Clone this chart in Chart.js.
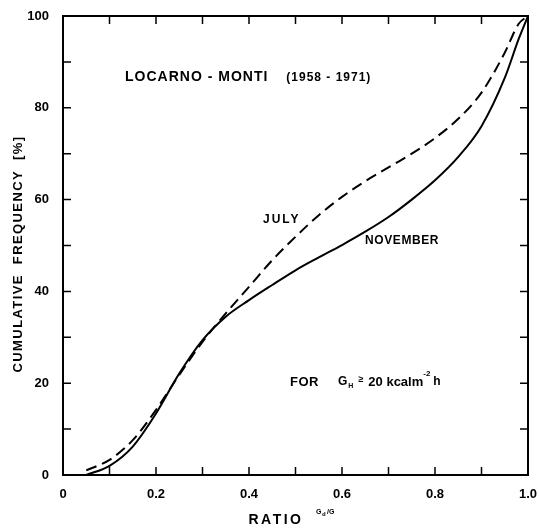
<!DOCTYPE html>
<html>
<head>
<meta charset="utf-8">
<script src="https://cdn.jsdelivr.net/npm/chart.js@4.4.1/dist/chart.umd.min.js"></script>
<style>
  html, body { margin: 0; padding: 0; background: #fff; }
  #wrap { width: 539px; height: 530px; }
</style>
</head>
<body>
<div id="wrap"><canvas id="chart" width="539" height="530"></canvas></div>
<script>
// values
const ratio = [0.05, 0.1, 0.15, 0.2, 0.25, 0.3, 0.35, 0.4, 0.45, 0.5, 0.55, 0.6, 0.65, 0.7, 0.75, 0.8, 0.85, 0.9, 0.95, 0.98, 1.0];
const november = [0, 2.0, 6.2, 13.4, 22.1, 29.4, 34.5, 38.1, 41.4, 44.6, 47.4, 50.1, 53.0, 56.2, 60.0, 64.2, 69.3, 76.0, 86.5, 95.0, 100];
const july = [1.0, 3.3, 7.6, 14.2, 21.8, 29.0, 35.2, 41.0, 46.8, 51.9, 56.6, 60.6, 64.0, 67.0, 70.0, 73.4, 77.6, 83.3, 92.0, 98.3, 100];
const xTickLabels = ["0", "0.2", "0.4", "0.6", "0.8", "1.0"];
const yTickLabels = ["0", "20", "40", "60", "80", "100"];

const FONT = '"Liberation Sans", Arial, sans-serif';

function toPoints(ys) {
  return ratio.map((r, i) => ({ x: r, y: ys[i] }));
}

// write text with optional letter spacing
function put(ctx, str, x, y, size, align, spacing) {
  ctx.font = "bold " + size + "px " + FONT;
  ctx.letterSpacing = (spacing || 0) + "px";
  ctx.textAlign = align || "left";
  ctx.textBaseline = "middle";
  ctx.fillText(str, x, y);
  const w = ctx.measureText(str).width;
  ctx.letterSpacing = "0px";
  return w;
}

// frame, inward ticks and the labels inside the plot
const frame = {
  id: "frame",
  afterDraw(chart) {
    const { ctx, chartArea, scales } = chart;
    const { left, right, top, bottom } = chartArea;
    const x = scales.x, y = scales.y;
    ctx.save();
    ctx.strokeStyle = "#000";
    ctx.fillStyle = "#000";
    ctx.lineWidth = 2;
    ctx.strokeRect(left, top, right - left, bottom - top);
    ctx.lineWidth = 1.5;
    ctx.beginPath();
    x.ticks.forEach((t) => {
      if (t.value <= 0 || t.value >= 1) return;
      const px = x.getPixelForValue(t.value);
      ctx.moveTo(px, bottom); ctx.lineTo(px, bottom - 8);
      ctx.moveTo(px, top); ctx.lineTo(px, top + 8);
    });
    y.ticks.forEach((t) => {
      if (t.value <= 0 || t.value >= 100) return;
      const py = y.getPixelForValue(t.value);
      ctx.moveTo(left, py); ctx.lineTo(left + 8, py);
      ctx.moveTo(right, py); ctx.lineTo(right - 8, py);
    });
    ctx.stroke();

    // title inside the plot
    const w = put(ctx, "LOCARNO - MONTI", 125, 77, 14, "left", 1.0);
    put(ctx, "(1958 - 1971)", 125 + w + 18, 78, 12, "left", 1.0);

    // curve labels
    put(ctx, "JULY", 263, 220, 12, "left", 2);
    put(ctx, "NOVEMBER", 365, 241, 12, "left", 0.6);

    // condition
    put(ctx, "FOR", 290, 382, 13, "left", 0.5);
    let cx = 338;
    cx += put(ctx, "G", cx, 382, 12, "left") + 1;
    cx += put(ctx, "H", cx, 386, 7, "left") + 5;
    cx += put(ctx, "\u2265", cx, 380, 9, "left") + 5;
    cx += put(ctx, "20 kcalm", cx, 382, 13, "left");
    cx += put(ctx, "-2", cx, 374, 8, "left") + 3;
    put(ctx, "h", cx, 382, 12, "left");

    // axis titles
    ctx.save();
    ctx.translate(18, 254);
    ctx.rotate(-Math.PI / 2);
    put(ctx, "CUMULATIVE  FREQUENCY  [%]", 0, 0, 13, "center", 1.4);
    ctx.restore();
    put(ctx, "RATIO", 276, 520, 14, "center", 2.5);
    put(ctx, "G", 316, 512, 7, "left");
    put(ctx, "d", 322, 514, 6, "left");
    put(ctx, "/G", 327, 512, 7, "left");
    ctx.restore();
  }
};

new Chart(document.getElementById("chart"), {
  type: "scatter",
  data: {
    datasets: [
      {
        label: "November",
        data: toPoints(november),
        showLine: true,
        borderColor: "#000",
        borderWidth: 2,
        pointRadius: 0,
        cubicInterpolationMode: "monotone",
      },
      {
        label: "July",
        data: toPoints(july),
        showLine: true,
        borderColor: "#000",
        borderWidth: 2,
        borderDash: [11, 6],
        pointRadius: 0,
        cubicInterpolationMode: "monotone",
      },
    ],
  },
  plugins: [frame],
  options: {
    responsive: false,
    animation: false,
    layout: { padding: { top: 16, right: 11, left: 0, bottom: 0 } },
    plugins: {
      legend: { display: false },
      tooltip: { enabled: false },
    },
    scales: {
      x: {
        type: "linear",
        min: 0,
        max: 1,
        grid: { display: false },
        border: { display: false },
        ticks: {
          stepSize: 0.1,
          padding: 4,
          maxRotation: 0,
          autoSkip: false,
          color: "#000",
          font: { family: FONT, size: 13, weight: "bold" },
          callback: function (value) {
            const k = Math.round(value * 10);
            return k % 2 ? "" : xTickLabels[k / 2];
          },
        },
        afterFit: function (scale) {
          scale.height = 55;
          scale.paddingLeft = 0;
          scale.paddingRight = 0;
        },
      },
      y: {
        type: "linear",
        min: 0,
        max: 100,
        grid: { display: false },
        border: { display: false },
        ticks: {
          stepSize: 10,
          padding: 6,
          autoSkip: false,
          color: "#000",
          font: { family: FONT, size: 13, weight: "bold" },
          callback: function (value) {
            const k = Math.round(value / 10);
            return k % 2 ? "" : yTickLabels[k / 2];
          },
        },
        afterFit: function (scale) {
          scale.width = 63;
          scale.paddingTop = 0;
          scale.paddingBottom = 0;
        },
      },
    },
  },
});
</script>
</body>
</html>
